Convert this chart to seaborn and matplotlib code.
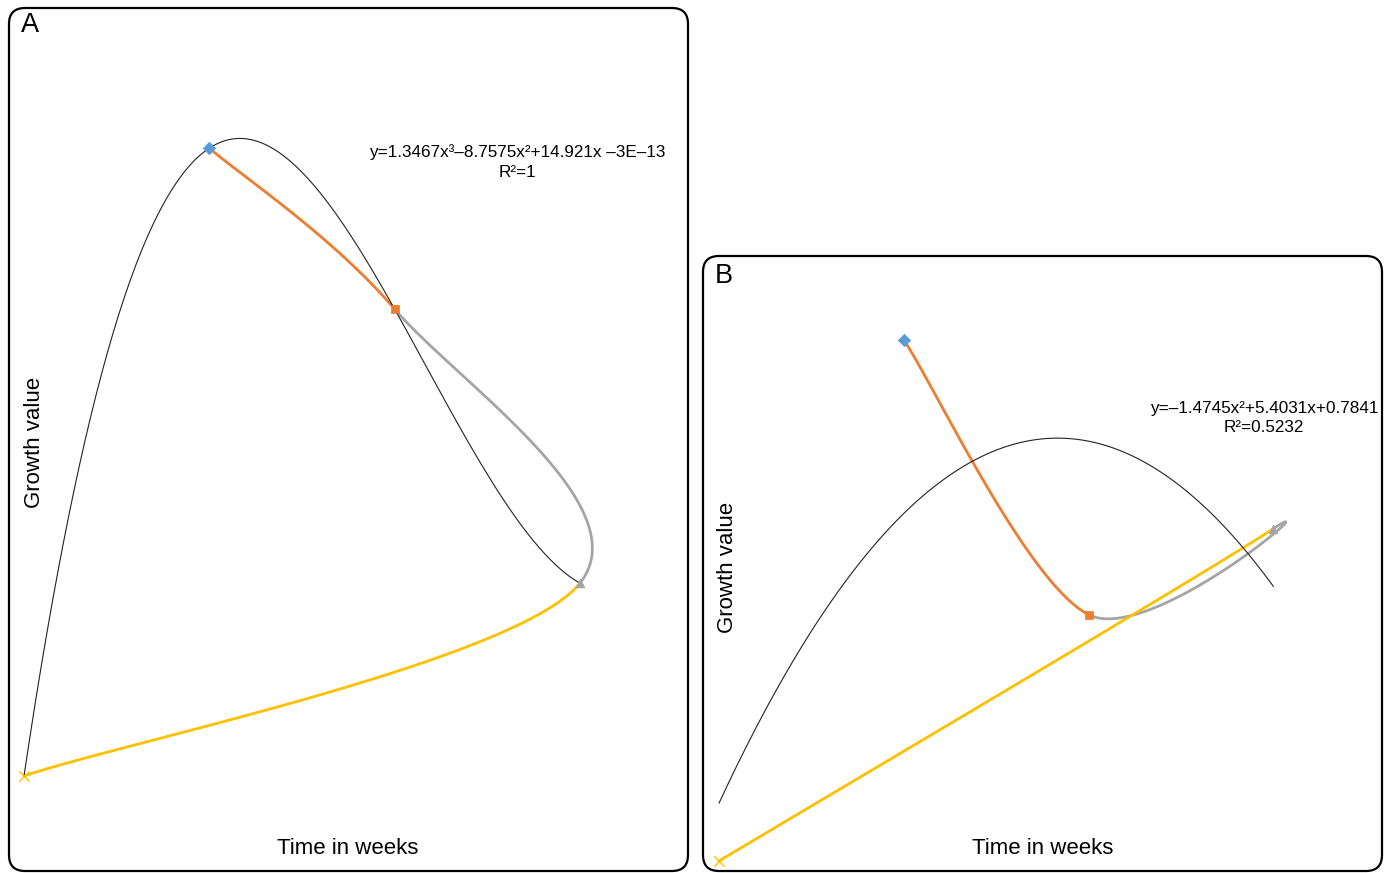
import numpy as np
import pandas as pd
import seaborn as sns
import matplotlib
matplotlib.use("Agg")
import matplotlib.pyplot as plt
from matplotlib.patches import FancyBboxPatch
from matplotlib.transforms import IdentityTransform

# ---------------- data ----------------
# points in the order the smoothed series connects them
weeks = [1, 2, 3, 0]
growth_a = [7.5102, 5.5856, 2.3064, 0.0]
growth_b = [7.065, 3.340, 4.507, 0.0]
point_ids = ["p1", "p2", "p3", "p0"]
point_colors = {"p1": "#5B9BD5", "p2": "#ED7D31", "p3": "#A5A5A5", "p0": "#FFC000"}
point_markers = {"p1": "D", "p2": "s", "p3": "^", "p0": "x"}
eq_a = "y=1.3467x³–8.7575x²+14.921x –3E–13\nR²=1"
eq_b = "y=–1.4745x²+5.4031x+0.7841\nR²=0.5232"
x_label = "Time in weeks"
y_label = "Growth value"

sns.set_theme(style="white")
plt.rcParams["font.family"] = ["Liberation Sans", "DejaVu Sans"]

W, H = 1391, 873
fig = plt.figure(figsize=(W / 100, H / 100), dpi=100)


def smooth_path(xs, ys, n=80):
    """Excel-like smoothed line (Catmull-Rom Bezier), returns segments."""
    P = np.column_stack([xs, ys]).astype(float)
    m = len(P)
    segs = []
    for i in range(m - 1):
        p0 = P[i - 1] if i > 0 else P[i]
        p1 = P[i]
        p2 = P[i + 1]
        p3 = P[i + 2] if i + 2 < m else P[i + 1]
        c1 = p1 + (p2 - p0) / 6.0
        c2 = p2 - (p3 - p1) / 6.0
        t = np.linspace(0, 1, n)[:, None]
        B = ((1 - t) ** 3) * p1 + 3 * ((1 - t) ** 2) * t * c1 + 3 * (1 - t) * t ** 2 * c2 + t ** 3 * p2
        segs.append(B)
    return segs


def px_ax(x0, y0, x1, y1):
    return fig.add_axes([x0 / W, 1 - y1 / H, (x1 - x0) / W, (y1 - y0) / H])


def panel(ax, ys, deg, xlim, ylim, eq, eq_xy, letter, box, letter_xy, xl_xy, yl_xy):
    df = pd.DataFrame({"week": weeks, "growth": ys, "pid": point_ids})
    segs = smooth_path(weeks, ys)
    for i, seg in enumerate(segs):
        col = point_colors[point_ids[i + 1]]
        sns.lineplot(x=seg[:, 0], y=seg[:, 1], sort=False, ax=ax, color=col,
                     lw=2.0, estimator=None, zorder=2)
    coef = np.polyfit(weeks, ys, deg)
    xt = np.linspace(0, 3, 300)
    sns.lineplot(x=xt, y=np.polyval(coef, xt), ax=ax, color="#222222", lw=0.8,
                 estimator=None, zorder=3)
    for pid in point_ids:
        sub = df[df["pid"] == pid]
        mk = point_markers[pid]
        kw = dict(s=40 if mk != "x" else 55, color=point_colors[pid],
                  marker=mk, ax=ax, zorder=4, legend=False)
        if mk == "x":
            kw["linewidth"] = 1.0
        else:
            kw["edgecolor"] = point_colors[pid]
            kw["linewidth"] = 0.5
        sns.scatterplot(data=sub, x="week", y="growth", **kw)
    ax.set_xlim(*xlim)
    ax.set_ylim(*ylim)
    ax.set_axis_off()
    # rounded frame in pixel coordinates
    bx0, by0, bx1, by1 = box
    fr = FancyBboxPatch((bx0, H - by1), bx1 - bx0, by1 - by0,
                        boxstyle="round,pad=0,rounding_size=16",
                        transform=IdentityTransform(), fill=False,
                        ec="black", lw=1.6)
    fig.add_artist(fr)
    fig.text(eq_xy[0] / W, 1 - eq_xy[1] / H, eq, ha="center", va="center",
             fontsize=12.3, linespacing=1.35, color="black")
    fig.text(letter_xy[0] / W, 1 - letter_xy[1] / H, letter, ha="left",
             va="center", fontsize=19.5, color="black")
    fig.text(xl_xy[0] / W, 1 - xl_xy[1] / H, x_label, ha="center",
             va="center", fontsize=16, color="black")
    fig.text(yl_xy[0] / W, 1 - yl_xy[1] / H, y_label, ha="center",
             va="center", fontsize=16, rotation=90, color="black")


# Panel A: x=0 -> px 24, 185.3 px/unit; y=0 -> py 776, 83.6 px/unit
axA = px_ax(10, 8, 688, 871)
panel(axA, growth_a, 3,
      xlim=((10 - 24) / 185.3, (688 - 24) / 185.3),
      ylim=((776 - 871) / 83.6, (776 - 8) / 83.6),
      eq=eq_a, eq_xy=(517, 162), letter="A", box=(9, 8, 688, 871),
      letter_xy=(21, 25), xl_xy=(348, 849), yl_xy=(34, 442))

# Panel B: x=0 -> px 719, 184.8 px/unit; y=0 -> py 861, 73.75 px/unit
axB = px_ax(703, 256, 1382, 871)
panel(axB, growth_b, 2,
      xlim=((703 - 719) / 184.8, (1382 - 719) / 184.8),
      ylim=((861 - 871) / 73.75, (861 - 256) / 73.75),
      eq=eq_b, eq_xy=(1264, 418), letter="B", box=(703, 256, 1382, 871),
      letter_xy=(715, 276), xl_xy=(1043, 849), yl_xy=(727, 567))

fig.savefig("out.png", dpi=100)
